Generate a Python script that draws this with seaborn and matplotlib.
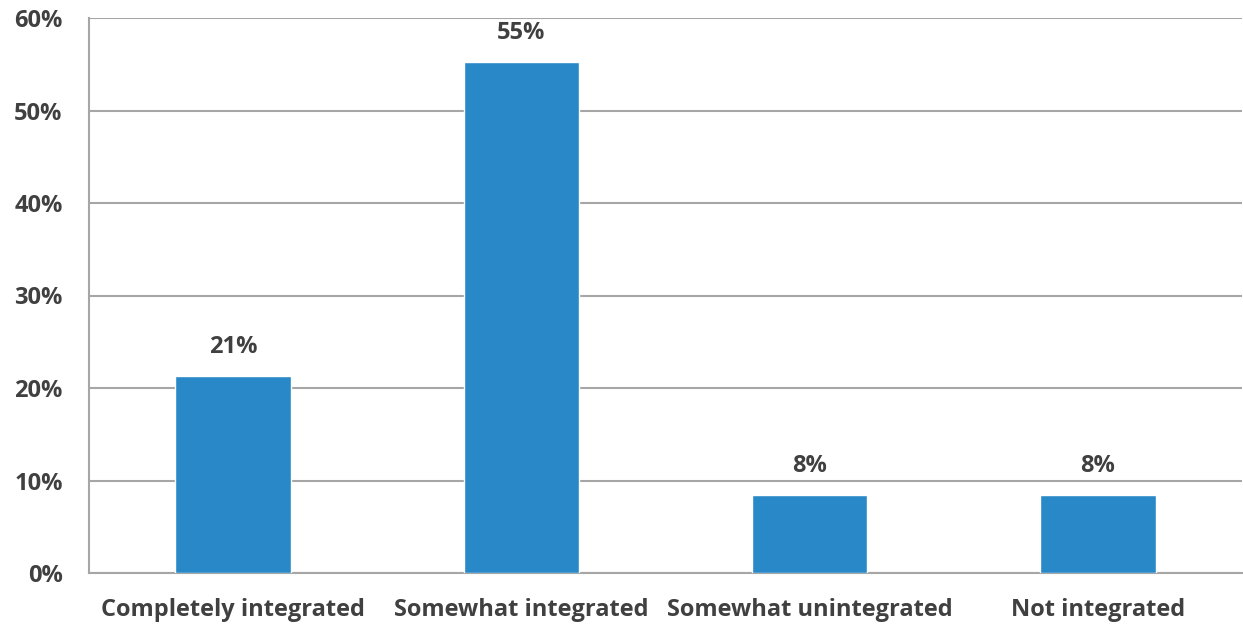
import matplotlib
matplotlib.use("Agg")
import matplotlib.pyplot as plt
import pandas as pd
import seaborn as sns

# Chart data
categories = ['Completely integrated', 'Somewhat integrated',
              'Somewhat unintegrated', 'Not integrated']
values = [21.35, 55.25, 8.45, 8.45]
value_labels = ['21%', '55%', '8%', '8%']
y_ticks = [0, 10, 20, 30, 40, 50, 60]

sns.set_style('white')
plt.rcParams['font.family'] = ['Open Sans', 'DejaVu Sans']

df = pd.DataFrame({'category': categories, 'value': values})

fig = plt.figure(figsize=(12.43, 6.24), dpi=100)
ax = fig.add_axes([89 / 1243, 1 - 573 / 624, (1242 - 89) / 1243, (573 - 18) / 624])

sns.barplot(data=df, x='category', y='value', color='#2989C8', saturation=1,
            width=0.4, ax=ax, zorder=3)

grey = '#A6A6A6'
text_col = '#404040'

ax.set_ylim(0, 60)
ax.set_xlim(-0.5, 3.5)
ax.set_yticks(y_ticks)
ax.set_yticklabels([f'{t}%' for t in y_ticks])
ax.yaxis.grid(True, color=grey, linewidth=1.5, zorder=0)
ax.set_axisbelow(True)

for side in ['top', 'right']:
    ax.spines[side].set_visible(False)
for side in ['left', 'bottom']:
    ax.spines[side].set_color(grey)
    ax.spines[side].set_linewidth(1.5)

ax.tick_params(axis='y', length=0, pad=19, labelsize=17, labelcolor=text_col)
ax.tick_params(axis='x', length=0, pad=18, labelsize=17, labelcolor=text_col)
for lab in ax.get_yticklabels() + ax.get_xticklabels():
    lab.set_fontweight('bold')

ax.set_xlabel('')
ax.set_ylabel('')

for i, (v, lab) in enumerate(zip(values, value_labels)):
    ax.annotate(lab, (i, v), xytext=(0, 12), textcoords='offset points',
                ha='center', va='bottom', fontsize=17, fontweight='bold',
                color=text_col)

fig.savefig('out.png', dpi=100)
